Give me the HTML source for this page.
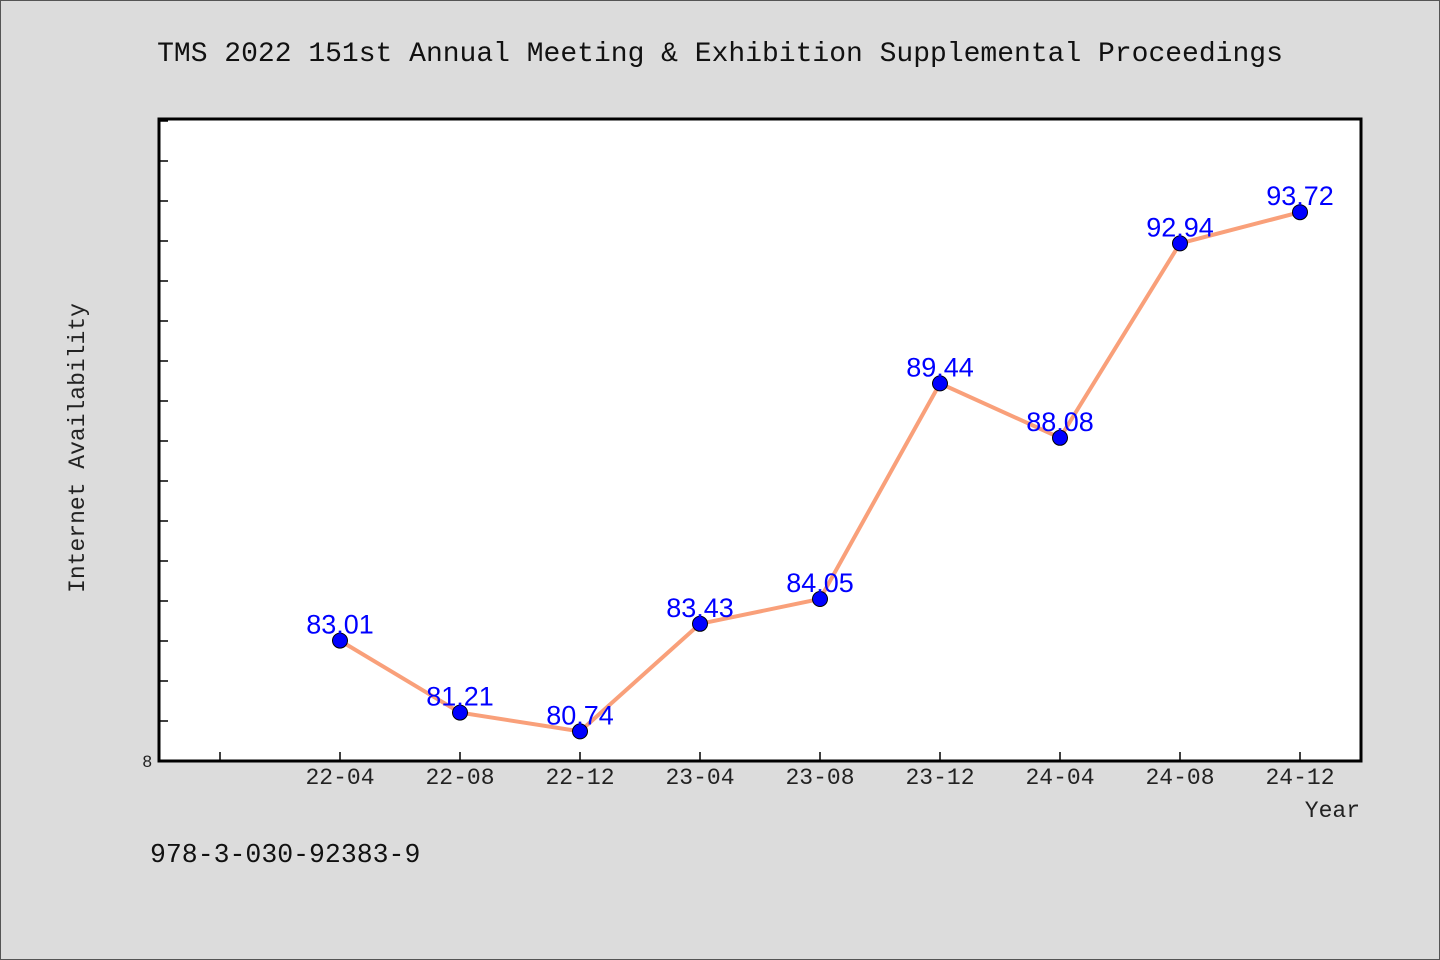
<!DOCTYPE html>
<html><head><meta charset="utf-8"><style>
html,body{margin:0;padding:0;background:#dcdcdc;}
svg{display:block;}
</style></head><body>
<svg width="1440" height="960" xmlns="http://www.w3.org/2000/svg">
<rect x="0.5" y="0.5" width="1439" height="959" fill="#dcdcdc" stroke="#555"/>
<text x="720" y="61" text-anchor="middle" font-family="'Liberation Mono','WenQuanYi Zen Hei',monospace" font-size="28" fill="#111">TMS 2022 151st Annual Meeting &amp; Exhibition Supplemental Proceedings</text>
<rect x="159" y="119" width="1202" height="642" fill="#fff" stroke="#000" stroke-width="3"/>
<g id="yticks"></g><g id="xticks"></g><g id="series"></g>
<text x="84" y="448" transform="rotate(-90 84 448)" text-anchor="middle" font-family="'Liberation Mono',monospace" font-size="23" fill="#222">Internet Availability</text>
<text x="1360" y="817" text-anchor="end" font-family="'Liberation Mono',monospace" font-size="23" fill="#222">Year</text>
<text x="150" y="862" font-family="'Liberation Mono',monospace" font-size="26.5" fill="#111">978-3-030-92383-9</text>
</svg>
<script>
const categories=["22-04","22-08","22-12","23-04","23-08","23-12","24-04","24-08","24-12"];
const values=[83.01,81.21,80.74,83.43,84.05,89.44,88.08,92.94,93.72];
const valueLabels=["83.01","81.21","80.74","83.43","84.05","89.44","88.08","92.94","93.72"];
const yTickValues=[81,82,83,84,85,86,87,88,89,90,91,92,93,94,95,96];
const ns="http://www.w3.org/2000/svg";
const yMin=80, yTop=96.05, plotTop=119, plotBottom=761;
function y(v){return plotBottom-(v-yMin)/(yTop-yMin)*(plotBottom-plotTop);}
function x(i){return 340+120*i;}
function mk(t,a,p){const e=document.createElementNS(ns,t);for(const k in a)e.setAttribute(k,a[k]);p.appendChild(e);return e;}
const yt=document.getElementById('yticks');
yTickValues.forEach(v=>{const l=mk('line',{x1:160,x2:168,y1:y(v),y2:y(v),stroke:'#000','stroke-width':1.5},yt);

});
const yl=mk('text',{x:152,y:767,'text-anchor':'end','font-family':"'Liberation Sans',sans-serif",'font-size':17,fill:'#222'},yt);
yl.textContent='8';


const xt=document.getElementById('xticks');
const t0=mk('line',{x1:220,x2:220,y1:760,y2:752,stroke:'#000','stroke-width':1.5},xt);


categories.forEach((c,i)=>{const l=mk('line',{x1:x(i),x2:x(i),y1:760,y2:752,stroke:'#000','stroke-width':1.5},xt);


const t=mk('text',{x:x(i),y:784,'text-anchor':'middle','font-family':"'Liberation Mono',monospace",'font-size':23,fill:'#222'},xt);
t.textContent=c;

});
const s=document.getElementById('series');
const pl=mk('polyline',{points:values.map((v,i)=>x(i)+','+y(v)).join(' '),fill:'none',stroke:'#f9a07a','stroke-width':4},s);


values.forEach((v,i)=>{const c=mk('circle',{cx:x(i),cy:y(v),r:7.5,fill:'#0000ff',stroke:'#000','stroke-width':1},s);


const t=mk('text',{x:x(i),y:y(v)-7,'text-anchor':'middle','font-family':"'Liberation Sans',sans-serif",'font-size':27,fill:'#0000ff'},s);
t.textContent=valueLabels[i];

});
</script>
</body></html>
